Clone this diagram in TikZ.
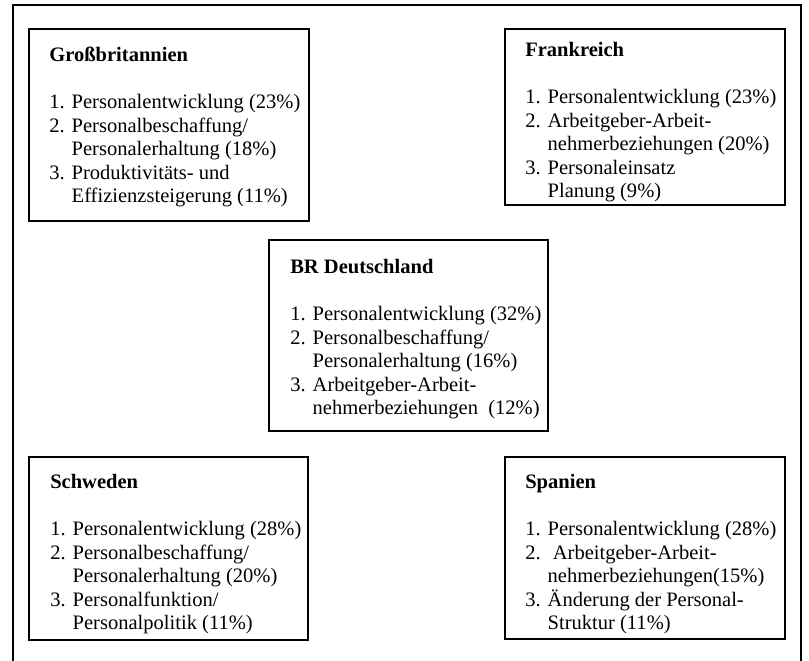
\documentclass[tikz,border=0pt]{standalone}
\usepackage{fontspec}
\setmainfont{Liberation Serif}
\usetikzlibrary{positioning}

\tikzset{
  landbox/.style={draw=black, line width=0.9pt},
  landtext/.style={anchor=north west, inner sep=0pt,
    font=\fontsize{14.6}{16.7}\selectfont},
}

\begin{document}
\begin{tikzpicture}[x=0.025cm, y=-0.025cm]
\useasboundingbox (0,0) rectangle (809,661);

% --- outer frame (bottom edge cut off) ---
\draw[line width=0.8pt] (13,661) -- (13,5) -- (801,5) -- (801,661);

% --- country boxes ---
\draw[landbox] (29,29) rectangle (309,221);
\draw[landbox] (505,29) rectangle (785,205);
\draw[landbox] (269,240) rectangle (548,431);
\draw[landbox] (29,457) rectangle (308,640);
\draw[landbox] (505,457) rectangle (785,639);

% --- Grossbritannien ---
\node[landtext] (gb) at (49,45) {%
  \begin{tabular}{@{}l@{\hspace{5pt}}l@{}}
  \multicolumn{2}{@{}l@{}}{\textbf{Großbritannien}}\\[16.7pt]
  1. & Personalentwicklung (23\%)\\
  2. & Personalbeschaffung/\\
     & Personalerhaltung (18\%)\\
  3. & Produktivitäts- und\\
     & Effizienzsteigerung (11\%)
  \end{tabular}};

% --- Frankreich ---
\node[landtext] (fr) at (525,40) {%
  \begin{tabular}{@{}l@{\hspace{5pt}}l@{}}
  \multicolumn{2}{@{}l@{}}{\textbf{Frankreich}}\\[16.7pt]
  1. & Personalentwicklung (23\%)\\
  2. & Arbeitgeber-Arbeit-\\
     & nehmerbeziehungen (20\%)\\
  3. & Personaleinsatz\\
     & Planung (9\%)
  \end{tabular}};

% --- BR Deutschland ---
\node[landtext] (brd) at (290,257) {%
  \begin{tabular}{@{}l@{\hspace{5pt}}l@{}}
  \multicolumn{2}{@{}l@{}}{\textbf{BR Deutschland}}\\[16.7pt]
  1. & Personalentwicklung (32\%)\\
  2. & Personalbeschaffung/\\
     & Personalerhaltung (16\%)\\
  3. & Arbeitgeber-Arbeit-\\
     & nehmerbeziehungen\ \ (12\%)
  \end{tabular}};

% --- Schweden ---
\node[landtext] (se) at (50,472) {%
  \begin{tabular}{@{}l@{\hspace{5pt}}l@{}}
  \multicolumn{2}{@{}l@{}}{\textbf{Schweden}}\\[16.7pt]
  1. & Personalentwicklung (28\%)\\
  2. & Personalbeschaffung/\\
     & Personalerhaltung (20\%)\\
  3. & Personalfunktion/\\
     & Personalpolitik (11\%)
  \end{tabular}};

% --- Spanien ---
\node[landtext] (es) at (525,472) {%
  \begin{tabular}{@{}l@{\hspace{5pt}}l@{}}
  \multicolumn{2}{@{}l@{}}{\textbf{Spanien}}\\[16.7pt]
  1. & Personalentwicklung (28\%)\\
  2. & \ Arbeitgeber-Arbeit-\\
     & nehmerbeziehungen(15\%)\\
  3. & Änderung der Personal-\\
     & Struktur (11\%)
  \end{tabular}};

\end{tikzpicture}
\end{document}
